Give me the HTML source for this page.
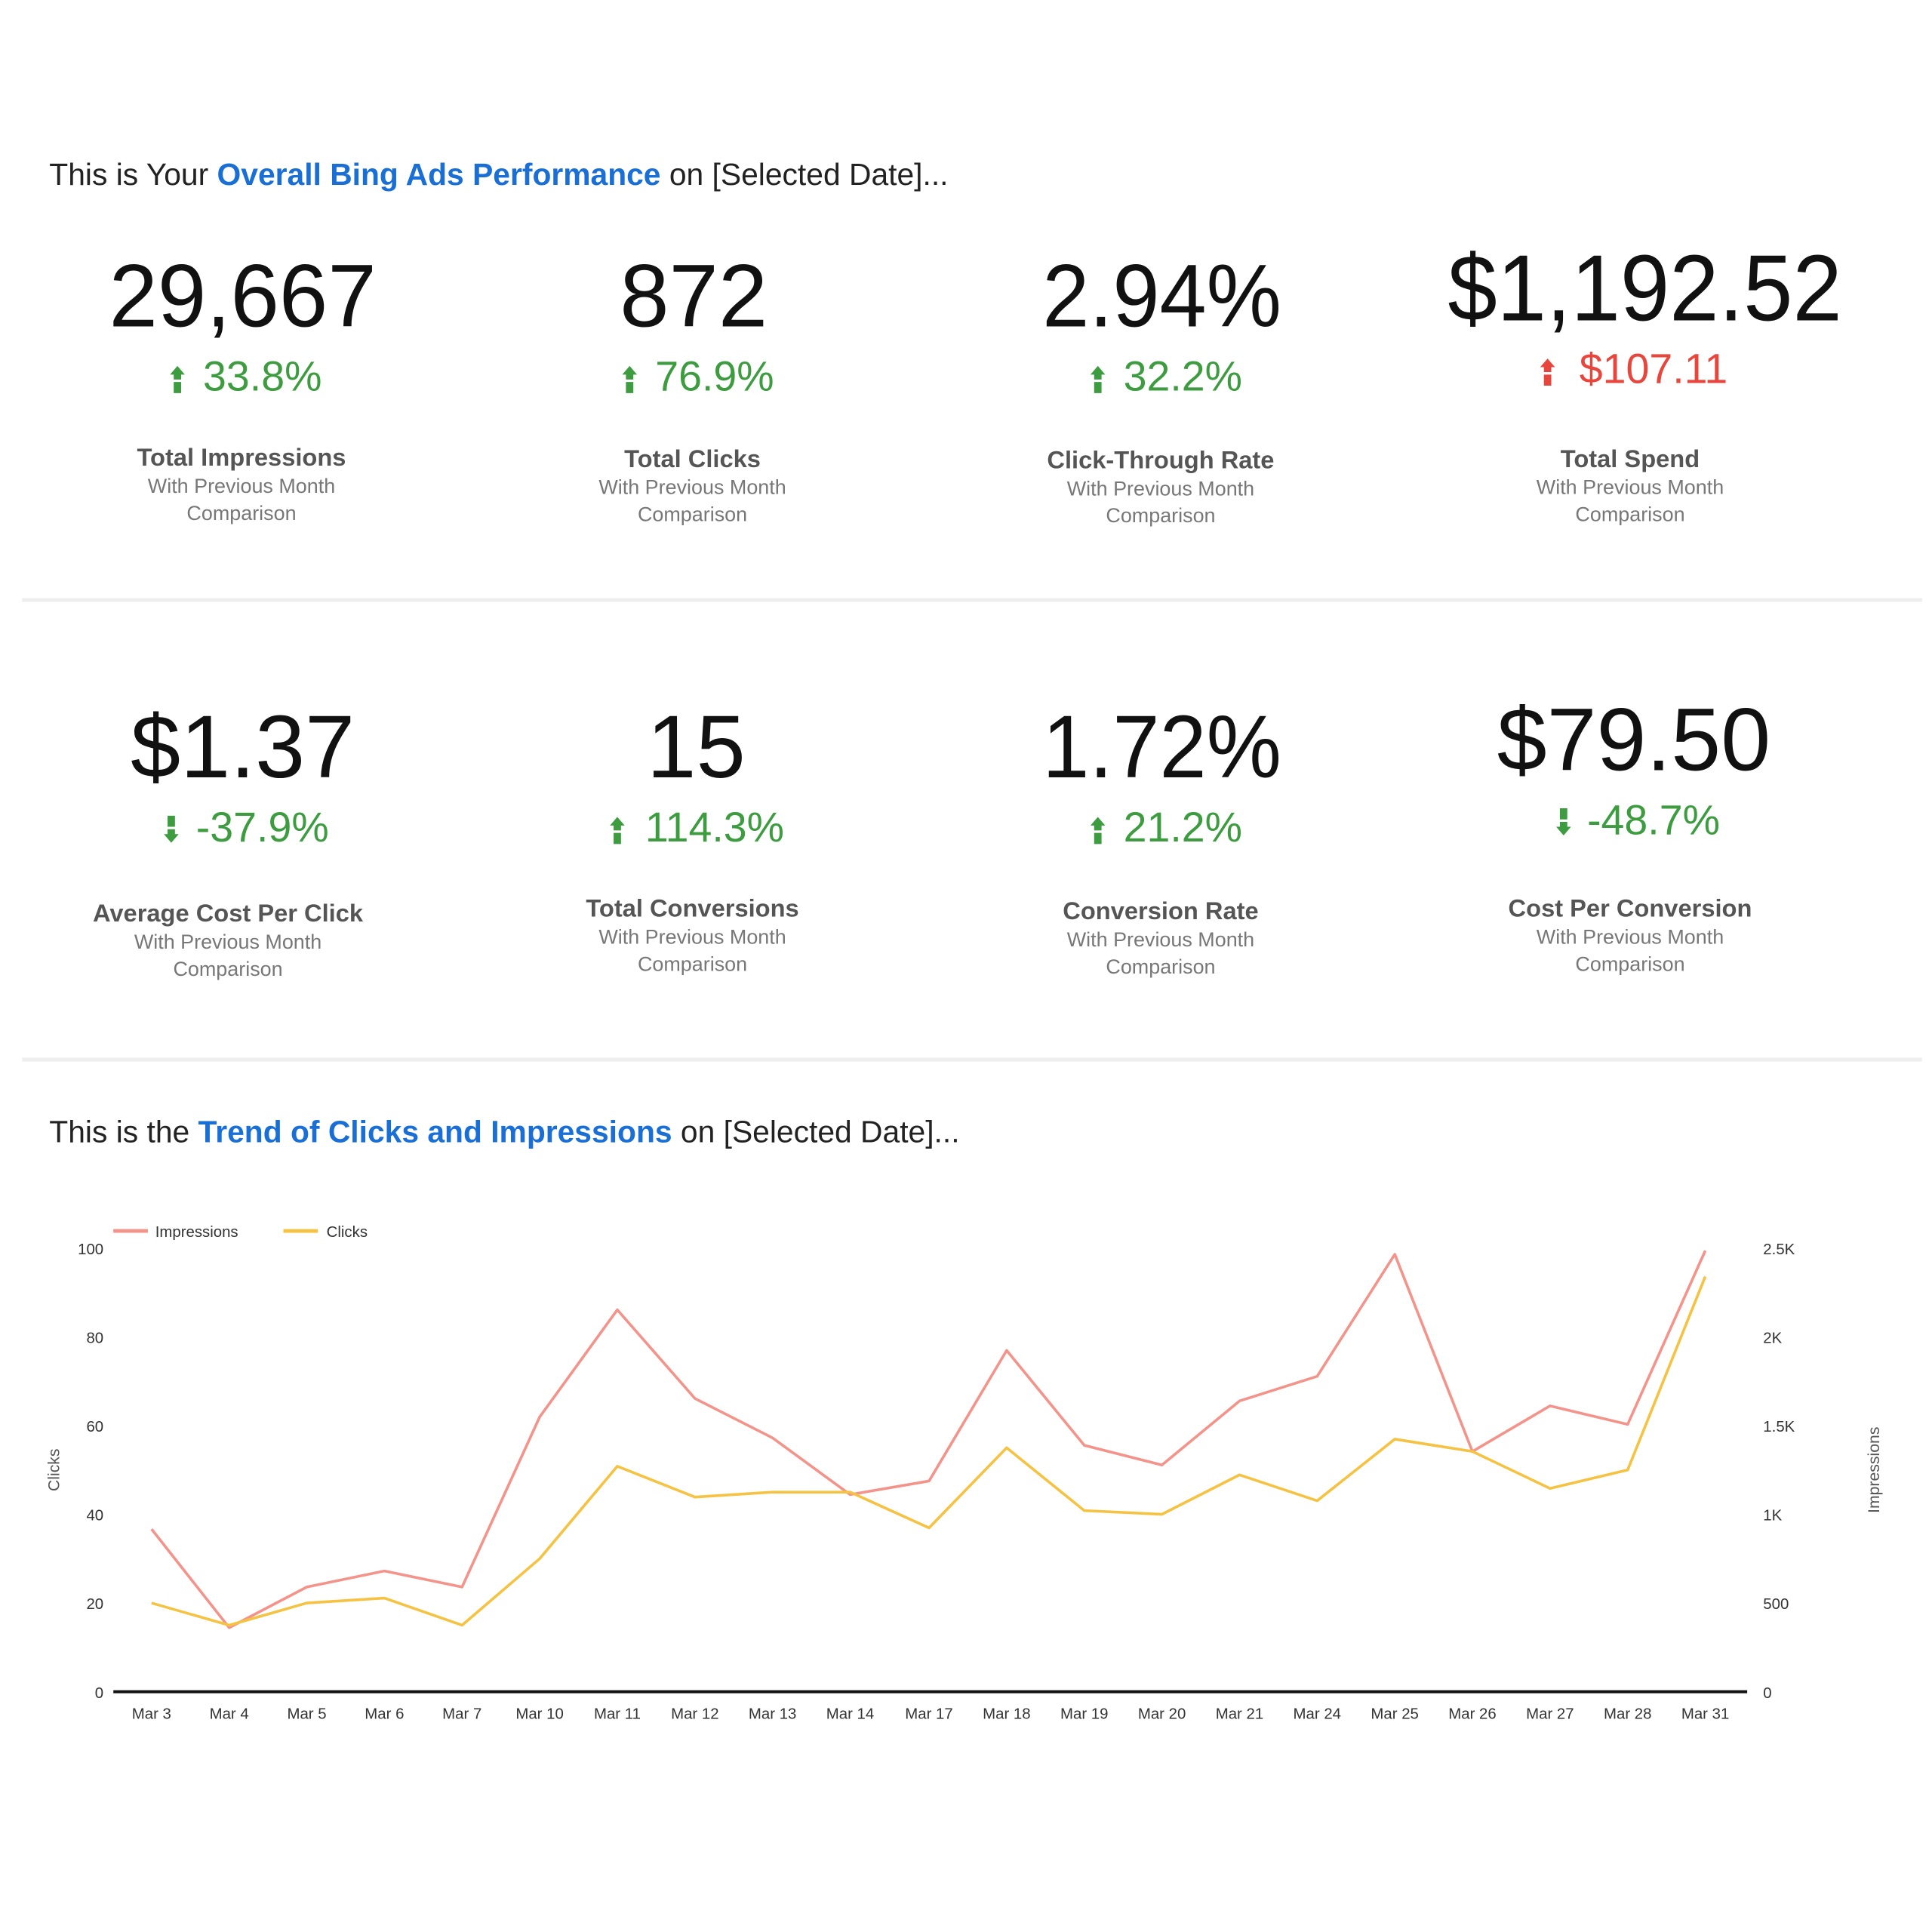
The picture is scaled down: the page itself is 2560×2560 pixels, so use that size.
<!DOCTYPE html>
<html><head><meta charset="utf-8"><style>
html,body{margin:0;padding:0;background:#fff;}
svg{display:block;}
text{font-family:"Liberation Sans",sans-serif;}
</style></head><body>
<svg width="2560" height="2560" viewBox="0 0 1568 1568" xmlns="http://www.w3.org/2000/svg">
<rect width="1568" height="1568" fill="#fff"/>
<text x="40" y="150" font-size="25" fill="#222">This is Your <tspan fill="#1a6fd6" font-weight="bold">Overall Bing Ads Performance</tspan> on [Selected Date]...</text>

<g text-anchor="middle">
<text x="197" y="265" font-size="72" fill="#111" textLength="217" lengthAdjust="spacingAndGlyphs">29,667</text>
<text x="563" y="265" font-size="72" fill="#111" textLength="120" lengthAdjust="spacingAndGlyphs">872</text>
<text x="943" y="265" font-size="72" fill="#111" textLength="194" lengthAdjust="spacingAndGlyphs">2.94%</text>
<text x="1335" y="260" font-size="76" fill="#111" textLength="320" lengthAdjust="spacingAndGlyphs">$1,192.52</text>

<text x="213" y="317" font-size="34" fill="#3d9c40">33.8%</text>
<text x="580" y="317" font-size="34" fill="#3d9c40">76.9%</text>
<text x="960" y="317" font-size="34" fill="#3d9c40">32.2%</text>
<text x="1342" y="311" font-size="34" fill="#e8463c">$107.11</text>

<text x="196" y="378" font-size="20" font-weight="bold" fill="#555">Total Impressions</text>
<text x="196" y="400" font-size="16.5" fill="#777">With Previous Month</text>
<text x="196" y="422" font-size="16.5" fill="#777">Comparison</text>
<text x="562" y="379" font-size="20" font-weight="bold" fill="#555">Total Clicks</text>
<text x="562" y="401" font-size="16.5" fill="#777">With Previous Month</text>
<text x="562" y="423" font-size="16.5" fill="#777">Comparison</text>
<text x="942" y="380" font-size="20" font-weight="bold" fill="#555">Click-Through Rate</text>
<text x="942" y="402" font-size="16.5" fill="#777">With Previous Month</text>
<text x="942" y="424" font-size="16.5" fill="#777">Comparison</text>
<text x="1323" y="379" font-size="20" font-weight="bold" fill="#555">Total Spend</text>
<text x="1323" y="401" font-size="16.5" fill="#777">With Previous Month</text>
<text x="1323" y="423" font-size="16.5" fill="#777">Comparison</text>

<text x="197" y="631" font-size="72" fill="#111" textLength="182" lengthAdjust="spacingAndGlyphs">$1.37</text>
<text x="565" y="631" font-size="72" fill="#111" textLength="80" lengthAdjust="spacingAndGlyphs">15</text>
<text x="943" y="631" font-size="72" fill="#111" textLength="194" lengthAdjust="spacingAndGlyphs">1.72%</text>
<text x="1326" y="625" font-size="72" fill="#111" textLength="222" lengthAdjust="spacingAndGlyphs">$79.50</text>

<text x="213" y="683" font-size="34" fill="#3d9c40">-37.9%</text>
<text x="580" y="683" font-size="34" fill="#3d9c40">114.3%</text>
<text x="960" y="683" font-size="34" fill="#3d9c40">21.2%</text>
<text x="1342" y="677" font-size="34" fill="#3d9c40">-48.7%</text>

<text x="185" y="748" font-size="20" font-weight="bold" fill="#555">Average Cost Per Click</text>
<text x="185" y="770" font-size="16.5" fill="#777">With Previous Month</text>
<text x="185" y="792" font-size="16.5" fill="#777">Comparison</text>
<text x="562" y="744" font-size="20" font-weight="bold" fill="#555">Total Conversions</text>
<text x="562" y="766" font-size="16.5" fill="#777">With Previous Month</text>
<text x="562" y="788" font-size="16.5" fill="#777">Comparison</text>
<text x="942" y="746" font-size="20" font-weight="bold" fill="#555">Conversion Rate</text>
<text x="942" y="768" font-size="16.5" fill="#777">With Previous Month</text>
<text x="942" y="790" font-size="16.5" fill="#777">Comparison</text>
<text x="1323" y="744" font-size="20" font-weight="bold" fill="#555">Cost Per Conversion</text>
<text x="1323" y="766" font-size="16.5" fill="#777">With Previous Month</text>
<text x="1323" y="788" font-size="16.5" fill="#777">Comparison</text>
</g>

<g fill="#3d9c40">
<path d="M144 297 l-6 7 h3 v4 h6 v-4 h3 z M141 310 h6 v9 h-6z"/>
<path d="M511 297 l-6 7 h3 v4 h6 v-4 h3 z M508 310 h6 v9 h-6z"/>
<path d="M891 297 l-6 7 h3 v4 h6 v-4 h3 z M888 310 h6 v9 h-6z"/>
<path d="M501 663 l-6 7 h3 v4 h6 v-4 h3 z M498 676 h6 v9 h-6z"/>
<path d="M891 663 l-6 7 h3 v4 h6 v-4 h3 z M888 676 h6 v9 h-6z"/>
<path d="M139 684 l-6 -7 h3 v-4 h6 v4 h3 z M136 671 h6 v-9 h-6z"/>
<path d="M1269 678 l-6 -7 h3 v-4 h6 v4 h3 z M1266 665 h6 v-9 h-6z"/>
</g>
<path fill="#e8463c" d="M1256 291 l-6 7 h3 v4 h6 v-4 h3 z M1253 304 h6 v9 h-6z"/>

<line x1="18" y1="487" x2="1560" y2="487" stroke="#eee" stroke-width="3"/>
<line x1="18" y1="860" x2="1560" y2="860" stroke="#eee" stroke-width="3"/>

<text x="40" y="927" font-size="25" fill="#222">This is the <tspan fill="#1a6fd6" font-weight="bold">Trend of Clicks and Impressions</tspan> on [Selected Date]...</text>

<line x1="92" y1="999" x2="120" y2="999" stroke="#f4938a" stroke-width="3"/>
<text x="126" y="1004" font-size="12.5" fill="#333">Impressions</text>
<line x1="230" y1="999" x2="258" y2="999" stroke="#f5c242" stroke-width="3"/>
<text x="265" y="1004" font-size="12.5" fill="#333">Clicks</text>

<g font-size="12.5" fill="#333" text-anchor="end">
<text x="84" y="1018">100</text><text x="84" y="1090">80</text><text x="84" y="1162">60</text>
<text x="84" y="1234">40</text><text x="84" y="1306">20</text><text x="84" y="1378">0</text>
</g>
<g font-size="12.5" fill="#333">
<text x="1431" y="1018">2.5K</text><text x="1431" y="1090">2K</text><text x="1431" y="1162">1.5K</text>
<text x="1431" y="1234">1K</text><text x="1431" y="1306">500</text><text x="1431" y="1378">0</text>
</g>
<text transform="translate(48,1193) rotate(-90)" font-size="13" fill="#555" text-anchor="middle">Clicks</text>
<text transform="translate(1525,1193) rotate(-90)" font-size="13" fill="#555" text-anchor="middle">Impressions</text>

<line x1="92" y1="1373" x2="1418" y2="1373" stroke="#111" stroke-width="2.5"/>

<g font-size="12.5" fill="#333" text-anchor="middle">
<text x="123" y="1395">Mar 3</text><text x="186" y="1395">Mar 4</text><text x="249" y="1395">Mar 5</text>
<text x="312" y="1395">Mar 6</text><text x="375" y="1395">Mar 7</text><text x="438" y="1395">Mar 10</text>
<text x="501" y="1395">Mar 11</text><text x="564" y="1395">Mar 12</text><text x="627" y="1395">Mar 13</text>
<text x="690" y="1395">Mar 14</text><text x="754" y="1395">Mar 17</text><text x="817" y="1395">Mar 18</text>
<text x="880" y="1395">Mar 19</text><text x="943" y="1395">Mar 20</text><text x="1006" y="1395">Mar 21</text>
<text x="1069" y="1395">Mar 24</text><text x="1132" y="1395">Mar 25</text><text x="1195" y="1395">Mar 26</text>
<text x="1258" y="1395">Mar 27</text><text x="1321" y="1395">Mar 28</text><text x="1384" y="1395">Mar 31</text>
</g>

<polyline fill="none" stroke="#f4938a" stroke-width="2.2" stroke-linejoin="round" points="123,1241 186,1321 249,1288 312,1275 375,1288 438,1150 501,1063 564,1135 627,1167 690,1213 754,1202 817,1096 880,1173 943,1189 1006,1137 1069,1117 1132,1018 1195,1178 1258,1141 1321,1156 1384,1015"/>
<polyline fill="none" stroke="#f5c242" stroke-width="2.2" stroke-linejoin="round" points="123,1301 186,1319 249,1301 312,1297 375,1319 438,1265 501,1190 564,1215 627,1211 690,1211 754,1240 817,1175 880,1226 943,1229 1006,1197 1069,1218 1132,1168 1195,1178 1258,1208 1321,1193 1384,1036"/>
</svg>
</body></html>
